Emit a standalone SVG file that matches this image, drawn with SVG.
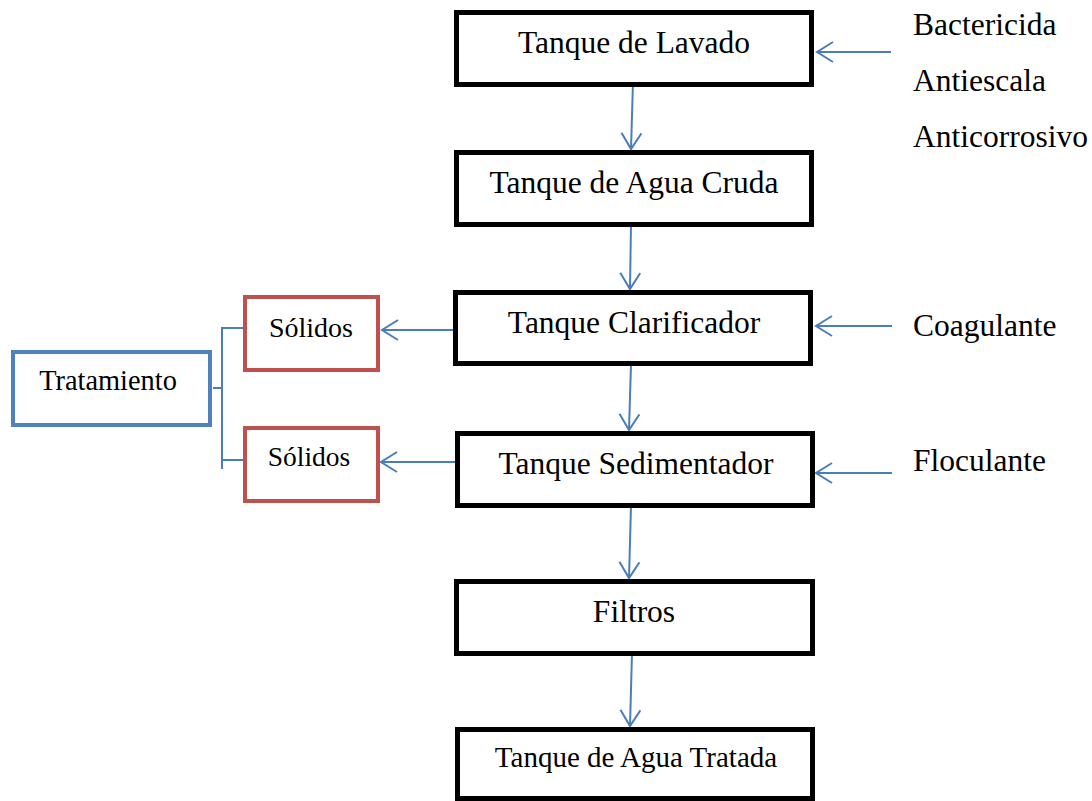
<svg xmlns="http://www.w3.org/2000/svg" width="1092" height="801" viewBox="0 0 1092 801">
<style>
.box{fill:#fff;stroke:#000;stroke-width:5}
.red{fill:#fff;stroke:#C0504D;stroke-width:4}
.blue{fill:#fff;stroke:#4F81BD;stroke-width:4}
.t{font-family:"Liberation Serif","Times New Roman",serif;fill:#000}
.c{stroke:#4A7EBB;stroke-width:2;fill:none}
</style>
<defs>
<marker id="ah" markerUnits="userSpaceOnUse" markerWidth="24" markerHeight="24" refX="17" refY="11" orient="auto">
<path d="M1,1 L17,11 L1,21" fill="none" stroke="#4A7EBB" stroke-width="2"/>
</marker>
</defs>
<rect width="1092" height="801" fill="#fff"/>
<g id="connectors">
<line class="c" x1="633" y1="82" x2="631" y2="149" marker-end="url(#ah)"/>
<line class="c" x1="631" y1="224" x2="630" y2="289" marker-end="url(#ah)"/>
<line class="c" x1="631" y1="364" x2="629" y2="430" marker-end="url(#ah)"/>
<line class="c" x1="631" y1="506" x2="629" y2="578" marker-end="url(#ah)"/>
<line class="c" x1="632" y1="653" x2="630" y2="726" marker-end="url(#ah)"/>
<line class="c" x1="891" y1="52" x2="817" y2="52" marker-end="url(#ah)"/>
<line class="c" x1="892" y1="326" x2="816" y2="326" marker-end="url(#ah)"/>
<line class="c" x1="892" y1="473" x2="816" y2="473" marker-end="url(#ah)"/>
<line class="c" x1="456" y1="330" x2="382" y2="330" marker-end="url(#ah)"/>
<line class="c" x1="456" y1="462" x2="381" y2="462" marker-end="url(#ah)"/>
<path class="c" d="M213,388 H222 M245,328 H222 V469 M222,460 H245"/>
</g>
<g id="n1"><rect class="box" x="456.5" y="12.5" width="355" height="72"/><text class="t" x="634" y="53" font-size="31.5" text-anchor="middle">Tanque de Lavado</text></g>
<g id="n2"><rect class="box" x="456.5" y="152.5" width="355" height="72"/><text class="t" x="634" y="193" font-size="31.5" text-anchor="middle">Tanque de Agua Cruda</text></g>
<g id="n3"><rect class="box" x="455.5" y="292.5" width="355" height="71"/><text class="t" x="634" y="333" font-size="31.5" text-anchor="middle">Tanque Clarificador</text></g>
<g id="n4"><rect class="box" x="457.5" y="433.5" width="355" height="72"/><text class="t" x="636" y="474" font-size="31.5" text-anchor="middle">Tanque Sedimentador</text></g>
<g id="n5"><rect class="box" x="456.5" y="581.5" width="356" height="72"/><text class="t" x="634" y="622" font-size="31.5" text-anchor="middle">Filtros</text></g>
<g id="n6"><rect class="box" x="457.5" y="729.5" width="355" height="69"/><text class="t" x="636" y="767" font-size="29" text-anchor="middle">Tanque de Agua Tratada</text></g>
<g id="s1"><rect class="red" x="245" y="297" width="133" height="73"/><text class="t" x="311" y="337" font-size="28" text-anchor="middle">Sólidos</text></g>
<g id="s2"><rect class="red" x="245" y="428" width="133" height="73"/><text class="t" x="309" y="466" font-size="27.5" text-anchor="middle">Sólidos</text></g>
<g id="trat"><rect class="blue" x="13" y="352" width="197" height="73"/><text class="t" x="108" y="390" font-size="28.4" text-anchor="middle">Tratamiento</text></g>
<g id="chem1"><text class="t" x="913" y="35" font-size="31.5">Bactericida</text><text class="t" x="913" y="91" font-size="31.5">Antiescala</text><text class="t" x="913" y="147" font-size="31.5">Anticorrosivo</text></g>
<g id="chem2"><text class="t" x="913" y="336" font-size="31.5">Coagulante</text></g>
<g id="chem3"><text class="t" x="913" y="471" font-size="31.5">Floculante</text></g>
</svg>
